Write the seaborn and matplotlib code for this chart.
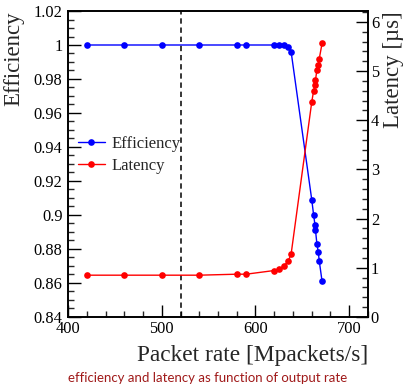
import matplotlib
matplotlib.use("Agg")
import matplotlib.pyplot as plt
import seaborn as sns
import pandas as pd
from matplotlib.ticker import MultipleLocator, FuncFormatter
from matplotlib.lines import Line2D

rate = [420, 460, 500, 540, 580, 590, 620, 625, 630, 635, 638,
        660, 662, 663.5, 664, 665.5, 667, 668, 671]
efficiency = [1.0, 1.0, 1.0, 1.0, 1.0, 1.0, 1.0, 1.0, 1.0, 0.999, 0.996,
              0.909, 0.900, 0.894, 0.891, 0.883, 0.878, 0.873, 0.861]
latency = [0.85, 0.85, 0.85, 0.85, 0.87, 0.87, 0.945, 0.978, 1.03, 1.14, 1.28,
           4.37, 4.60, 4.72, 4.82, 5.02, 5.13, 5.25, 5.56]
threshold = 520

df = pd.DataFrame({"rate": rate, "efficiency": efficiency, "latency": latency})

sns.set_theme(style="ticks")
plt.rcParams["font.family"] = ["Liberation Serif", "DejaVu Serif"]

fig = plt.figure(figsize=(4.05, 3.84), dpi=100)
ax = fig.add_axes([68 / 405, 1 - 317 / 384, 300 / 405, 306 / 384])
ax2 = ax.twinx()

sns.lineplot(data=df, x="rate", y="efficiency", ax=ax, color="blue", lw=1,
             marker="o", markersize=4.8, markeredgewidth=0)
sns.lineplot(data=df, x="rate", y="latency", ax=ax2, color="red", lw=1,
             marker="o", markersize=4.8, markeredgewidth=0)
ax.axvline(threshold, color="black", ls=(0, (3.5, 2.5)), lw=1.1)

ax.set_xlim(400, 720)
ax.set_ylim(0.84, 1.02)
ax2.set_ylim(0, 6.22)

ax.xaxis.set_major_locator(MultipleLocator(100))
ax.xaxis.set_minor_locator(MultipleLocator(20))
ax.yaxis.set_major_locator(MultipleLocator(0.02))
ax.yaxis.set_minor_locator(MultipleLocator(0.005))
ax2.yaxis.set_major_locator(MultipleLocator(1))
ax2.yaxis.set_minor_locator(MultipleLocator(0.2))
ax.yaxis.set_major_formatter(FuncFormatter(lambda v, p: ("%.2f" % v).rstrip("0").rstrip(".")))

for a in (ax, ax2):
    for s in a.spines.values():
        s.set_linewidth(1.2)
        s.set_color("black")

ax.tick_params(axis="both", which="major", direction="in", length=9, width=1,
               labelsize=11.8, colors="black", top=False)
ax.tick_params(axis="both", which="minor", direction="in", length=4.5, width=1, top=False)
ax.tick_params(axis="y", which="both", right=False, pad=4)
ax.tick_params(axis="x", which="major", pad=3)
ax2.tick_params(axis="y", which="major", direction="in", length=9, width=1,
                labelsize=11.8, pad=2, colors="black")
ax2.tick_params(axis="y", which="minor", direction="in", length=4.5, width=1)

ax.set_xlabel("Packet rate [Mpackets/s]", fontsize=16.8, loc="right", labelpad=6)
ax.set_ylabel("Efficiency", fontsize=16.5, loc="top", labelpad=7)
ax2.set_ylabel("Latency [µs]", fontsize=16.5, loc="top", labelpad=3)

handles = [Line2D([], [], color="blue", lw=1, marker="o", markersize=4.8, markeredgewidth=0),
           Line2D([], [], color="red", lw=1, marker="o", markersize=4.8, markeredgewidth=0)]
ax2.legend(handles, ["Efficiency", "Latency"], loc="center left",
           bbox_to_anchor=(0.0, 0.53), frameon=False, fontsize=12,
           handlelength=1.6, handletextpad=0.4, labelspacing=0.35, borderaxespad=0.2)

fig.text(68 / 405, 1 - 378 / 384, "efficiency and latency as function of output rate",
         fontsize=9.5, color="#a01a1a", family=["Lato", "DejaVu Sans"], va="center", ha="left")

fig.savefig("out.png", dpi=100)
